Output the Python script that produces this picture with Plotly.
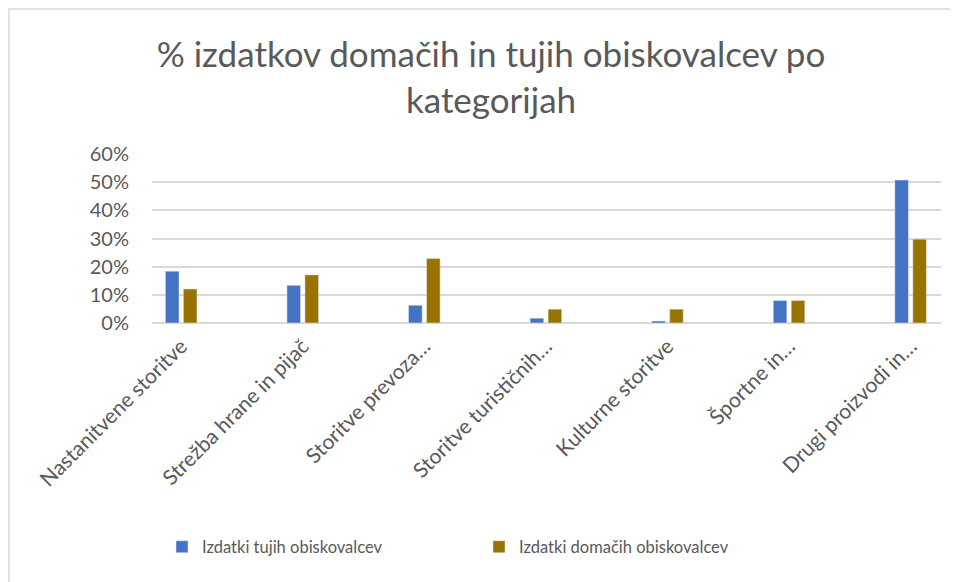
import plotly.graph_objects as go

categories = [
    "Nastanitvene storitve",
    "Strežba hrane in pijač",
    "Storitve prevoza…",
    "Storitve turističnih…",
    "Kulturne storitve",
    "Športne in…",
    "Drugi proizvodi in…",
]
tujih = [0.184, 0.134, 0.063, 0.017, 0.007, 0.080, 0.508]
domacih = [0.121, 0.171, 0.229, 0.049, 0.049, 0.080, 0.298]
series_names = ["Izdatki tujih obiskovalcev", "Izdatki domačih obiskovalcev"]
y_ticks = [0, 0.1, 0.2, 0.3, 0.4, 0.5, 0.6]
y_ticklabels = ["0%", "10%", "20%", "30%", "40%", "50%", "60%"]

FONT = "Lato"
GRAY = "#595959"
GRID = "#D9D9D9"

# page body has an 8px margin; work in screen coords and convert
OFF = 8
W, H = 958 - OFF, 582 - OFF
def sx(p):
    return p - OFF
def sy(p):
    return p - OFF

L, T = sx(152), sy(154)
R = W - sx(941)
B = H - sy(323)
pw, ph = W - L - R, H - T - B

fig = go.Figure()
fig.add_trace(go.Bar(x=categories, y=tujih, name=series_names[0],
                     marker=dict(color="#4472C4")))
fig.add_trace(go.Bar(x=categories, y=domacih, name=series_names[1],
                     marker=dict(color="#997300")))

def px_x(p):
    return (sx(p) - L) / pw

def px_y(p):
    return (H - B - sy(p)) / ph

fig.update_layout(
    width=W, height=H,
    margin=dict(l=L, r=R, t=T, b=B, autoexpand=False),
    paper_bgcolor="white", plot_bgcolor="white",
    barmode="group", bargap=0.704, bargroupgap=0.244,
    font=dict(family=FONT, color=GRAY),
    title=dict(
        text="% izdatkov domačih in tujih obiskovalcev po<br>kategorijah",
        x=sx(491) / W, xanchor="center", xref="container",
        y=1 - sy(67) / H, yanchor="top", yref="container",
        font=dict(family=FONT, size=35, color=GRAY),
    ),
    xaxis=dict(
        range=[-0.24, 6.25], showgrid=False, zeroline=False, showline=False,
        tickangle=-45, ticks="", tickfont=dict(family=FONT, size=21, color=GRAY),
        ticklabelstandoff=6,
    ),
    yaxis=dict(
        range=[0, 0.6005], tickvals=y_ticks, ticktext=y_ticklabels,
        showgrid=True, gridcolor=GRID, gridwidth=1.5,
        zeroline=True, zerolinecolor=GRID, zerolinewidth=1.5,
        showline=False, ticks="", ticklabelstandoff=22,
        tickfont=dict(family=FONT, size=20, color=GRAY),
    ),
    legend=dict(
        orientation="h", x=sx(162) / W, xref="container", xanchor="left",
        y=px_y(547), yanchor="middle",
        font=dict(family=FONT, size=16.5, color=GRAY),
        entrywidth=272, itemwidth=30,
        traceorder="normal",
    ),
    shapes=[dict(type="rect", xref="paper", yref="paper",
                 x0=px_x(9), x1=px_x(970), y0=px_y(600), y1=px_y(9),
                 line=dict(color=GRID, width=1.5), fillcolor="rgba(0,0,0,0)",
                 layer="below")],
)

fig.write_html("out.html")
